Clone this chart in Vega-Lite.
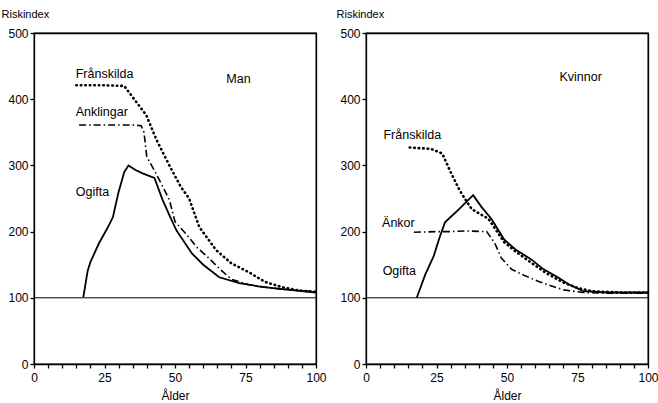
{
  "$schema": "https://vega.github.io/schema/vega-lite/v6.json",
  "background": "white",
  "padding": {"left": 0, "top": 7, "right": 3, "bottom": 2},
  "spacing": 8,
  "config": {
    "font": "Liberation Sans",
    "view": {"stroke": "black", "strokeWidth": 1.3},
    "axis": {"domain": true, "domainColor": "black", "domainWidth": 1.3, "grid": false, "ticks": true, "tickWidth": 1.3, "tickSize": 5, "labelFont": "Liberation Sans", "labelFontSize": 12, "labelColor": "black", "tickColor": "black", "titleFont": "Liberation Sans", "titleFontWeight": "normal", "titleFontSize": 12, "titleColor": "black"},
    "text": {"font": "Liberation Sans", "fontSize": 12, "color": "black"}
  },
  "datasets": {
    "lines": [
      {"panel": "Man", "series": "Frånskilda", "age": 15, "value": 421},
      {"panel": "Man", "series": "Frånskilda", "age": 20, "value": 421},
      {"panel": "Man", "series": "Frånskilda", "age": 25, "value": 421},
      {"panel": "Man", "series": "Frånskilda", "age": 32, "value": 420},
      {"panel": "Man", "series": "Frånskilda", "age": 35, "value": 403},
      {"panel": "Man", "series": "Frånskilda", "age": 39.8, "value": 376},
      {"panel": "Man", "series": "Frånskilda", "age": 43.5, "value": 338},
      {"panel": "Man", "series": "Frånskilda", "age": 48, "value": 300},
      {"panel": "Man", "series": "Frånskilda", "age": 52, "value": 268},
      {"panel": "Man", "series": "Frånskilda", "age": 55, "value": 250},
      {"panel": "Man", "series": "Frånskilda", "age": 58.6, "value": 207},
      {"panel": "Man", "series": "Frånskilda", "age": 64.6, "value": 172},
      {"panel": "Man", "series": "Frånskilda", "age": 70, "value": 152},
      {"panel": "Man", "series": "Frånskilda", "age": 76, "value": 139},
      {"panel": "Man", "series": "Frånskilda", "age": 82, "value": 124},
      {"panel": "Man", "series": "Frånskilda", "age": 88, "value": 116},
      {"panel": "Man", "series": "Frånskilda", "age": 94, "value": 111},
      {"panel": "Man", "series": "Frånskilda", "age": 100, "value": 109},

      {"panel": "Man", "series": "Anklingar", "age": 16, "value": 361},
      {"panel": "Man", "series": "Anklingar", "age": 25, "value": 361},
      {"panel": "Man", "series": "Anklingar", "age": 35, "value": 361},
      {"panel": "Man", "series": "Anklingar", "age": 38, "value": 360},
      {"panel": "Man", "series": "Anklingar", "age": 39, "value": 350},
      {"panel": "Man", "series": "Anklingar", "age": 40, "value": 313},
      {"panel": "Man", "series": "Anklingar", "age": 43, "value": 290},
      {"panel": "Man", "series": "Anklingar", "age": 46, "value": 265},
      {"panel": "Man", "series": "Anklingar", "age": 48, "value": 248},
      {"panel": "Man", "series": "Anklingar", "age": 50, "value": 215},
      {"panel": "Man", "series": "Anklingar", "age": 54, "value": 196},
      {"panel": "Man", "series": "Anklingar", "age": 57.6, "value": 177},
      {"panel": "Man", "series": "Anklingar", "age": 62, "value": 160},
      {"panel": "Man", "series": "Anklingar", "age": 66, "value": 143},
      {"panel": "Man", "series": "Anklingar", "age": 70, "value": 128},
      {"panel": "Man", "series": "Anklingar", "age": 76, "value": 120},
      {"panel": "Man", "series": "Anklingar", "age": 82, "value": 116},
      {"panel": "Man", "series": "Anklingar", "age": 88, "value": 113},
      {"panel": "Man", "series": "Anklingar", "age": 94, "value": 111},
      {"panel": "Man", "series": "Anklingar", "age": 100, "value": 109},

      {"panel": "Man", "series": "Ogifta", "age": 17.5, "value": 101},
      {"panel": "Man", "series": "Ogifta", "age": 19, "value": 140},
      {"panel": "Man", "series": "Ogifta", "age": 20, "value": 154},
      {"panel": "Man", "series": "Ogifta", "age": 23, "value": 182},
      {"panel": "Man", "series": "Ogifta", "age": 26, "value": 205},
      {"panel": "Man", "series": "Ogifta", "age": 28, "value": 222},
      {"panel": "Man", "series": "Ogifta", "age": 30, "value": 260},
      {"panel": "Man", "series": "Ogifta", "age": 32, "value": 290},
      {"panel": "Man", "series": "Ogifta", "age": 33.5, "value": 300},
      {"panel": "Man", "series": "Ogifta", "age": 36, "value": 293},
      {"panel": "Man", "series": "Ogifta", "age": 38.5, "value": 288},
      {"panel": "Man", "series": "Ogifta", "age": 42.7, "value": 281},
      {"panel": "Man", "series": "Ogifta", "age": 45.6, "value": 248},
      {"panel": "Man", "series": "Ogifta", "age": 48, "value": 225},
      {"panel": "Man", "series": "Ogifta", "age": 50.5, "value": 202},
      {"panel": "Man", "series": "Ogifta", "age": 56, "value": 167},
      {"panel": "Man", "series": "Ogifta", "age": 60, "value": 150},
      {"panel": "Man", "series": "Ogifta", "age": 65.7, "value": 131},
      {"panel": "Man", "series": "Ogifta", "age": 72.8, "value": 122},
      {"panel": "Man", "series": "Ogifta", "age": 80, "value": 117},
      {"panel": "Man", "series": "Ogifta", "age": 88, "value": 113},
      {"panel": "Man", "series": "Ogifta", "age": 100, "value": 108},

      {"panel": "Kvinnor", "series": "Frånskilda", "age": 15.5, "value": 327},
      {"panel": "Kvinnor", "series": "Frånskilda", "age": 23, "value": 325},
      {"panel": "Kvinnor", "series": "Frånskilda", "age": 27, "value": 318},
      {"panel": "Kvinnor", "series": "Frånskilda", "age": 30, "value": 290},
      {"panel": "Kvinnor", "series": "Frånskilda", "age": 33, "value": 264},
      {"panel": "Kvinnor", "series": "Frånskilda", "age": 35, "value": 250},
      {"panel": "Kvinnor", "series": "Frånskilda", "age": 37.5, "value": 234},
      {"panel": "Kvinnor", "series": "Frånskilda", "age": 43.5, "value": 219},
      {"panel": "Kvinnor", "series": "Frånskilda", "age": 49, "value": 184},
      {"panel": "Kvinnor", "series": "Frånskilda", "age": 53, "value": 170},
      {"panel": "Kvinnor", "series": "Frånskilda", "age": 58.6, "value": 153},
      {"panel": "Kvinnor", "series": "Frånskilda", "age": 64, "value": 137},
      {"panel": "Kvinnor", "series": "Frånskilda", "age": 70, "value": 123},
      {"panel": "Kvinnor", "series": "Frånskilda", "age": 75, "value": 115},
      {"panel": "Kvinnor", "series": "Frånskilda", "age": 80, "value": 110},
      {"panel": "Kvinnor", "series": "Frånskilda", "age": 90, "value": 108},
      {"panel": "Kvinnor", "series": "Frånskilda", "age": 100, "value": 108},

      {"panel": "Kvinnor", "series": "Änkor", "age": 17, "value": 199},
      {"panel": "Kvinnor", "series": "Änkor", "age": 25, "value": 200},
      {"panel": "Kvinnor", "series": "Änkor", "age": 30, "value": 200},
      {"panel": "Kvinnor", "series": "Änkor", "age": 35, "value": 201},
      {"panel": "Kvinnor", "series": "Änkor", "age": 42.8, "value": 200},
      {"panel": "Kvinnor", "series": "Änkor", "age": 45.6, "value": 183},
      {"panel": "Kvinnor", "series": "Änkor", "age": 48, "value": 160},
      {"panel": "Kvinnor", "series": "Änkor", "age": 51.6, "value": 143},
      {"panel": "Kvinnor", "series": "Änkor", "age": 56, "value": 134},
      {"panel": "Kvinnor", "series": "Änkor", "age": 61, "value": 125},
      {"panel": "Kvinnor", "series": "Änkor", "age": 65, "value": 119},
      {"panel": "Kvinnor", "series": "Änkor", "age": 70, "value": 112},
      {"panel": "Kvinnor", "series": "Änkor", "age": 77, "value": 108},
      {"panel": "Kvinnor", "series": "Änkor", "age": 85, "value": 107},
      {"panel": "Kvinnor", "series": "Änkor", "age": 100, "value": 107},

      {"panel": "Kvinnor", "series": "Ogifta", "age": 18, "value": 100},
      {"panel": "Kvinnor", "series": "Ogifta", "age": 21, "value": 135},
      {"panel": "Kvinnor", "series": "Ogifta", "age": 24, "value": 163},
      {"panel": "Kvinnor", "series": "Ogifta", "age": 26, "value": 190},
      {"panel": "Kvinnor", "series": "Ogifta", "age": 28, "value": 214},
      {"panel": "Kvinnor", "series": "Ogifta", "age": 33, "value": 234},
      {"panel": "Kvinnor", "series": "Ogifta", "age": 38, "value": 255},
      {"panel": "Kvinnor", "series": "Ogifta", "age": 41, "value": 237},
      {"panel": "Kvinnor", "series": "Ogifta", "age": 44.5, "value": 219},
      {"panel": "Kvinnor", "series": "Ogifta", "age": 49, "value": 188},
      {"panel": "Kvinnor", "series": "Ogifta", "age": 53, "value": 173},
      {"panel": "Kvinnor", "series": "Ogifta", "age": 58.6, "value": 158},
      {"panel": "Kvinnor", "series": "Ogifta", "age": 63, "value": 143},
      {"panel": "Kvinnor", "series": "Ogifta", "age": 68, "value": 131},
      {"panel": "Kvinnor", "series": "Ogifta", "age": 72, "value": 120},
      {"panel": "Kvinnor", "series": "Ogifta", "age": 77, "value": 110},
      {"panel": "Kvinnor", "series": "Ogifta", "age": 85, "value": 108},
      {"panel": "Kvinnor", "series": "Ogifta", "age": 100, "value": 108}
    ],
    "labels": [
      {"panel": "Man", "text": "Frånskilda", "age": 14.8, "value": 438},
      {"panel": "Man", "text": "Anklingar", "age": 14.8, "value": 380},
      {"panel": "Man", "text": "Ogifta", "age": 14.8, "value": 260},
      {"panel": "Man", "text": "Man", "age": 68.2, "value": 430},
      {"panel": "Kvinnor", "text": "Frånskilda", "age": 6.2, "value": 346},
      {"panel": "Kvinnor", "text": "Kvinnor", "age": 68.6, "value": 433},
      {"panel": "Kvinnor", "text": "Änkor", "age": 5.7, "value": 213},
      {"panel": "Kvinnor", "text": "Ogifta", "age": 5.9, "value": 140}
    ]
  },
  "hconcat": [
    {
      "width": 282,
      "height": 331,
      "layer": [
        {
          "data": {"values": [{"ref": 100}]},
          "mark": {"type": "rule", "color": "black", "strokeWidth": 1},
          "encoding": {"y": {"field": "ref", "type": "quantitative", "scale": {"domain": [0, 500], "nice": false}, "axis": null}}
        },
        {
          "data": {"name": "lines"},
          "transform": [{"filter": "datum.panel === 'Man' && datum.series === 'Ogifta'"}],
          "mark": {"type": "line", "color": "black", "strokeWidth": 1.8},
          "encoding": {
            "x": {"field": "age", "type": "quantitative", "scale": {"domain": [0, 100], "nice": false}, "title": "Ålder",
              "axis": {"orient": "bottom", "values": [0,5,10,15,20,25,30,35,40,45,50,55,60,65,70,75,80,85,90,95,100], "labelExpr": "datum.value % 25 === 0 ? datum.label : ''", "tickSize": 4, "labelPadding": 4, "titlePadding": 7, "labelFlush": false}},
            "y": {"field": "value", "type": "quantitative", "scale": {"domain": [0, 500], "nice": false}, "title": "Riskindex",
              "axis": {"orient": "left", "values": [0,100,200,300,400,500], "tickSize": 4, "labelPadding": 2, "titleAngle": 0, "titleAlign": "left", "titleBaseline": "bottom", "titleX": -33, "titleY": -14, "titleFontSize": 11, "labelFlush": false}}
          }
        },
        {
          "data": {"name": "lines"},
          "transform": [{"filter": "datum.panel === 'Man' && datum.series === 'Frånskilda'"}],
          "mark": {"type": "line", "color": "black", "strokeWidth": 2.6, "strokeDash": [0.5, 4], "strokeCap": "round"},
          "encoding": {
            "x": {"field": "age", "type": "quantitative", "axis": {"orient": "top", "labels": false, "ticks": false, "title": null}},
            "y": {"field": "value", "type": "quantitative", "axis": {"orient": "right", "labels": false, "ticks": false, "title": null}}
          }
        },
        {
          "data": {"name": "lines"},
          "transform": [{"filter": "datum.panel === 'Man' && datum.series === 'Anklingar'"}],
          "mark": {"type": "line", "color": "black", "strokeWidth": 1.6, "strokeDash": [7, 3, 1.5, 3]},
          "encoding": {
            "x": {"field": "age", "type": "quantitative", "axis": null},
            "y": {"field": "value", "type": "quantitative", "axis": null}
          }
        },
        {
          "data": {"name": "labels"},
          "transform": [{"filter": "datum.panel === 'Man'"}],
          "mark": {"type": "text", "align": "left", "baseline": "middle", "fontSize": 12.5},
          "encoding": {
            "x": {"field": "age", "type": "quantitative", "axis": null},
            "y": {"field": "value", "type": "quantitative", "axis": null},
            "text": {"field": "text"}
          }
        }
      ]
    },
    {
      "width": 282,
      "height": 331,
      "layer": [
        {
          "data": {"values": [{"ref": 100}]},
          "mark": {"type": "rule", "color": "black", "strokeWidth": 1},
          "encoding": {"y": {"field": "ref", "type": "quantitative", "scale": {"domain": [0, 500], "nice": false}, "axis": null}}
        },
        {
          "data": {"name": "lines"},
          "transform": [{"filter": "datum.panel === 'Kvinnor' && datum.series === 'Ogifta'"}],
          "mark": {"type": "line", "color": "black", "strokeWidth": 1.8},
          "encoding": {
            "x": {"field": "age", "type": "quantitative", "scale": {"domain": [0, 100], "nice": false}, "title": "Ålder",
              "axis": {"orient": "bottom", "values": [0,5,10,15,20,25,30,35,40,45,50,55,60,65,70,75,80,85,90,95,100], "labelExpr": "datum.value % 25 === 0 ? datum.label : ''", "tickSize": 4, "labelPadding": 4, "titlePadding": 7, "labelFlush": false}},
            "y": {"field": "value", "type": "quantitative", "scale": {"domain": [0, 500], "nice": false}, "title": "Riskindex",
              "axis": {"orient": "left", "values": [0,100,200,300,400,500], "tickSize": 4, "labelPadding": 2, "titleAngle": 0, "titleAlign": "left", "titleBaseline": "bottom", "titleX": -30, "titleY": -14, "titleFontSize": 11, "labelFlush": false}}
          }
        },
        {
          "data": {"name": "lines"},
          "transform": [{"filter": "datum.panel === 'Kvinnor' && datum.series === 'Frånskilda'"}],
          "mark": {"type": "line", "color": "black", "strokeWidth": 2.6, "strokeDash": [0.5, 4], "strokeCap": "round"},
          "encoding": {
            "x": {"field": "age", "type": "quantitative", "axis": {"orient": "top", "labels": false, "ticks": false, "title": null}},
            "y": {"field": "value", "type": "quantitative", "axis": {"orient": "right", "labels": false, "ticks": false, "title": null}}
          }
        },
        {
          "data": {"name": "lines"},
          "transform": [{"filter": "datum.panel === 'Kvinnor' && datum.series === 'Änkor'"}],
          "mark": {"type": "line", "color": "black", "strokeWidth": 1.6, "strokeDash": [7, 3, 1.5, 3]},
          "encoding": {
            "x": {"field": "age", "type": "quantitative", "axis": null},
            "y": {"field": "value", "type": "quantitative", "axis": null}
          }
        },
        {
          "data": {"name": "labels"},
          "transform": [{"filter": "datum.panel === 'Kvinnor'"}],
          "mark": {"type": "text", "align": "left", "baseline": "middle", "fontSize": 12.5},
          "encoding": {
            "x": {"field": "age", "type": "quantitative", "axis": null},
            "y": {"field": "value", "type": "quantitative", "axis": null},
            "text": {"field": "text"}
          }
        }
      ]
    }
  ]
}
